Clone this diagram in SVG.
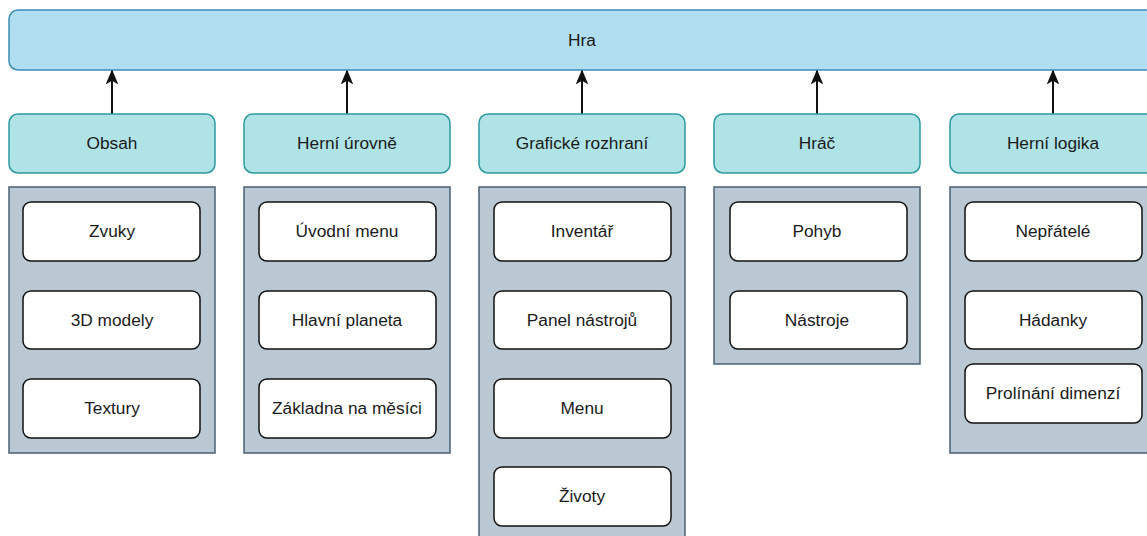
<svg xmlns="http://www.w3.org/2000/svg" width="1147" height="536" viewBox="0 0 1147 536">
<style>
text{font-family:"Liberation Sans",Arial,sans-serif;font-size:17.3px;fill:#1a1a1a;text-anchor:middle;dominant-baseline:central}
.top{fill:#b1ddf0;stroke:#3a8db5;stroke-width:1.5}
.cat{fill:#b0e3e6;stroke:#2b9aa0;stroke-width:1.5}
.grp{fill:#bac8d3;stroke:#4a6177;stroke-width:1.5}
.item{fill:#ffffff;stroke:#111111;stroke-width:1.5}
.conn{stroke:#111111;stroke-width:2;fill:none}
</style>
<defs>
<marker id="arr" viewBox="0 0 14 12" refX="13" refY="6" markerWidth="14" markerHeight="12" markerUnits="userSpaceOnUse" orient="auto">
<path d="M13,6 L1,1 L4,6 L1,11 Z" fill="#111111" stroke="#111111" stroke-width="1.2" stroke-linejoin="miter"/>
</marker>
</defs>
<g id="hra"><rect class="top" x="9" y="10" width="1150" height="60" rx="9"/><text x="582" y="40">Hra</text></g>
<g id="connectors">
<line class="conn" x1="112" y1="114" x2="112" y2="71" marker-end="url(#arr)"/>
<line class="conn" x1="347" y1="114" x2="347" y2="71" marker-end="url(#arr)"/>
<line class="conn" x1="582" y1="114" x2="582" y2="71" marker-end="url(#arr)"/>
<line class="conn" x1="817" y1="114" x2="817" y2="71" marker-end="url(#arr)"/>
<line class="conn" x1="1053" y1="114" x2="1053" y2="71" marker-end="url(#arr)"/>
</g>
<g id="obsah"><rect class="cat" x="9" y="114" width="206" height="59" rx="9"/><text x="112" y="143">Obsah</text></g>
<g id="herni-urovne"><rect class="cat" x="244" y="114" width="206" height="59" rx="9"/><text x="347" y="143">Herní úrovně</text></g>
<g id="graficke-rozhrani"><rect class="cat" x="479" y="114" width="206" height="59" rx="9"/><text x="582" y="143">Grafické rozhraní</text></g>
<g id="hrac"><rect class="cat" x="714" y="114" width="206" height="59" rx="9"/><text x="817" y="143">Hráč</text></g>
<g id="herni-logika"><rect class="cat" x="950" y="114" width="206" height="59" rx="9"/><text x="1053" y="143">Herní logika</text></g>

<g id="obsah-group"><rect class="grp" x="9" y="187" width="206" height="266"/></g>
<g id="herni-urovne-group"><rect class="grp" x="244" y="187" width="206" height="266"/></g>
<g id="graficke-rozhrani-group"><rect class="grp" x="479" y="187" width="206" height="360"/></g>
<g id="hrac-group"><rect class="grp" x="714" y="187" width="206" height="177"/></g>
<g id="herni-logika-group"><rect class="grp" x="950" y="187" width="206" height="266"/></g>

<g id="zvuky"><rect class="item" x="23" y="202" width="177" height="59" rx="8"/><text x="112" y="231">Zvuky</text></g>
<g id="modely"><rect class="item" x="23" y="291" width="177" height="58" rx="8"/><text x="112" y="320">3D modely</text></g>
<g id="textury"><rect class="item" x="23" y="379" width="177" height="59" rx="8"/><text x="112" y="408">Textury</text></g>

<g id="uvodni-menu"><rect class="item" x="259" y="202" width="177" height="59" rx="8"/><text x="347" y="231">Úvodní menu</text></g>
<g id="hlavni-planeta"><rect class="item" x="259" y="291" width="177" height="58" rx="8"/><text x="347" y="320">Hlavní planeta</text></g>
<g id="zakladna"><rect class="item" x="259" y="379" width="177" height="59" rx="8"/><text x="347" y="408">Základna na měsíci</text></g>

<g id="inventar"><rect class="item" x="494" y="202" width="177" height="59" rx="8"/><text x="582" y="231">Inventář</text></g>
<g id="panel"><rect class="item" x="494" y="291" width="177" height="58" rx="8"/><text x="582" y="320">Panel nástrojů</text></g>
<g id="menu"><rect class="item" x="494" y="379" width="177" height="59" rx="8"/><text x="582" y="408">Menu</text></g>
<g id="zivoty"><rect class="item" x="494" y="467" width="177" height="59" rx="8"/><text x="582" y="496">Životy</text></g>

<g id="pohyb"><rect class="item" x="730" y="202" width="177" height="59" rx="8"/><text x="817" y="231">Pohyb</text></g>
<g id="nastroje"><rect class="item" x="730" y="291" width="177" height="58" rx="8"/><text x="817" y="320">Nástroje</text></g>

<g id="nepratele"><rect class="item" x="965" y="202" width="177" height="59" rx="8"/><text x="1053" y="231">Nepřátelé</text></g>
<g id="hadanky"><rect class="item" x="965" y="291" width="177" height="58" rx="8"/><text x="1053" y="320">Hádanky</text></g>
<g id="prolinani"><rect class="item" x="965" y="364" width="177" height="59" rx="8"/><text x="1053" y="393">Prolínání dimenzí</text></g>
</svg>
